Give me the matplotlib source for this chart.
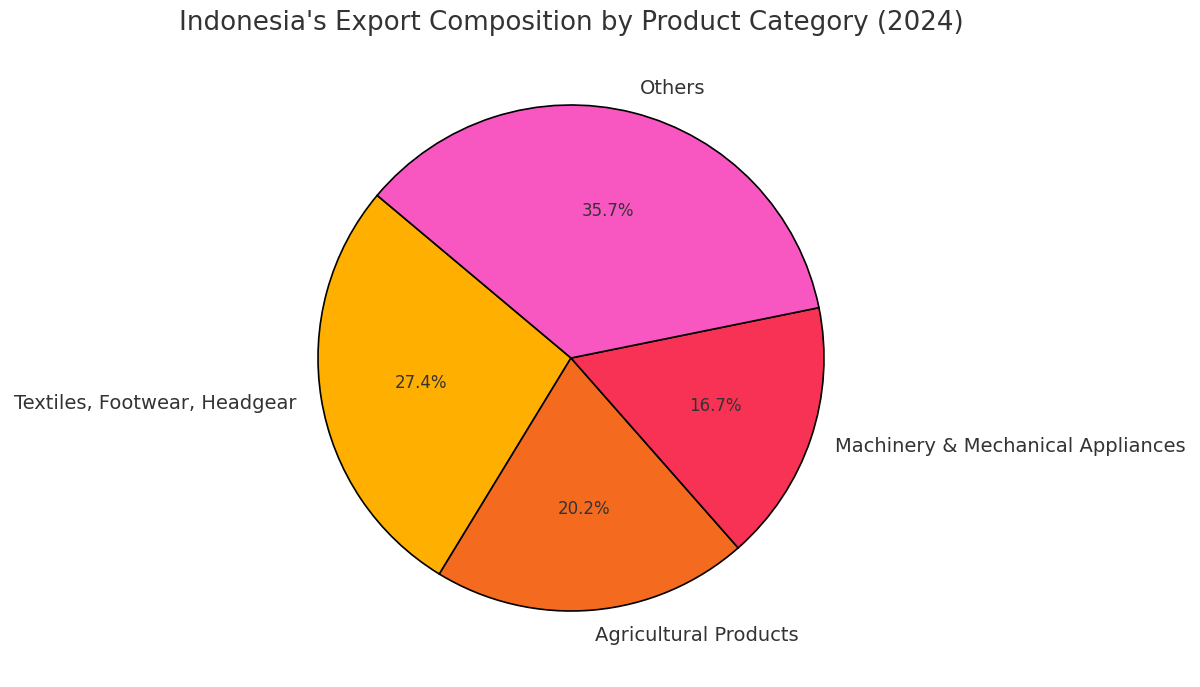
import matplotlib
matplotlib.use("Agg")
import matplotlib.pyplot as plt

categories = ["Textiles, Footwear, Headgear", "Agricultural Products", "Machinery & Mechanical Appliances", "Others"]
values = [27.4, 20.2, 16.7, 35.7]
colors = ["#FFAF00", "#F46B20", "#F73254", "#F857C1"]

fig = plt.figure(figsize=(12, 6.87), dpi=100)
cx, cy, r = 571, 358, 253
ax = fig.add_axes([(cx - r) / 1200, (687 - cy - r) / 687, 2 * r / 1200, 2 * r / 687])
wedges, texts, autotexts = ax.pie(values, labels=categories, colors=colors, autopct="%1.1f%%",
                                  startangle=140, wedgeprops=dict(edgecolor="black", linewidth=1.2),
                                  textprops=dict(color="#333333", fontsize=14))
for t in autotexts:
    t.set_fontsize(12)
ax.set_xlim(-1, 1)
ax.set_ylim(-1, 1)
ax.set_aspect("auto")
fig.text(571 / 1200, 1 - 23 / 687, "Indonesia's Export Composition by Product Category (2024)",
         ha="center", va="center", fontsize=18.8, color="#333333")
fig.savefig("out.png", dpi=100)
